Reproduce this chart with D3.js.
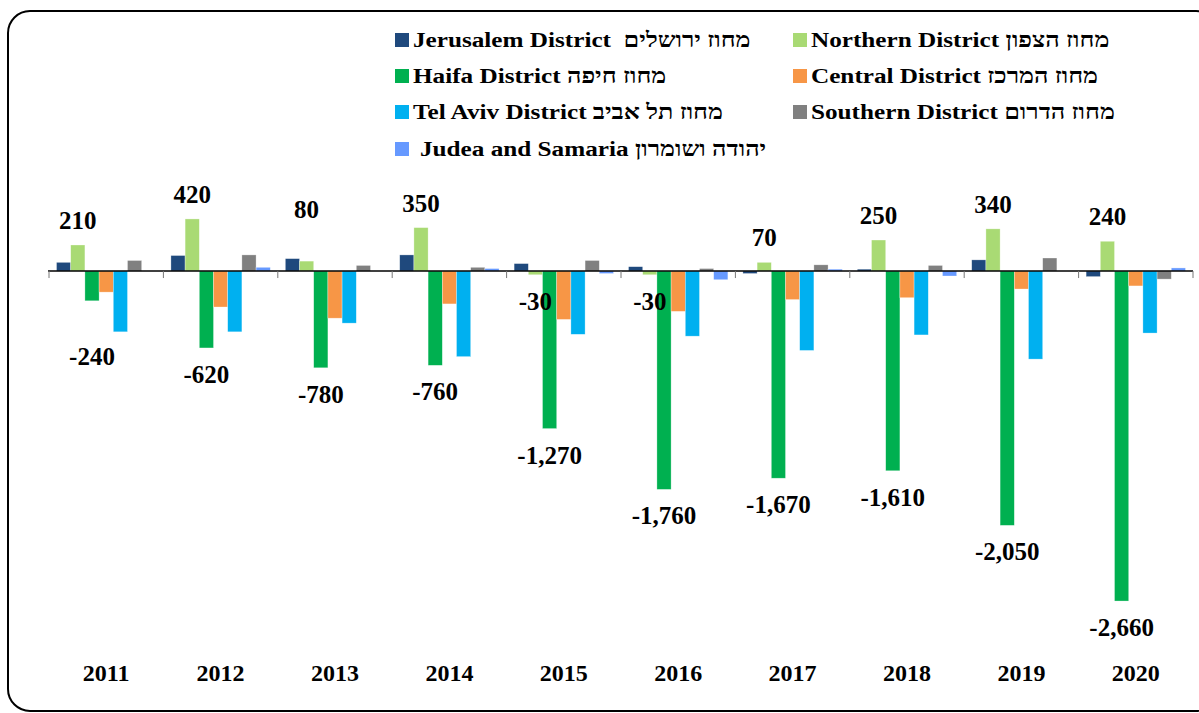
<!DOCTYPE html>
<html>
<head>
<meta charset="utf-8">
<script src="https://cdn.jsdelivr.net/npm/d3@7"></script>
<style>
  body { margin: 0; background: #fff; }
  svg { display: block; }
</style>
</head>
<body>
<svg id="chart"></svg>
<script>
// DATA
const years = ["2011", "2012", "2013", "2014", "2015", "2016", "2017", "2018", "2019", "2020"];
const seriesNames = [
  "Jerusalem District  מחוז ירושלים",
  "Northern District מחוז הצפון",
  "Haifa District מחוז חיפה",
  "Central District מחוז המרכז",
  "Tel Aviv District מחוז תל אביב",
  "Southern District מחוז הדרום",
  "Judea and Samaria יהודה ושומרון"
];
const jerusalem = [70, 125, 100, 130, 60, 35, -20, 15, 90, -45];
const northern = [210, 420, 80, 350, -30, -30, 70, 250, 340, 240];
const haifa = [-240, -620, -780, -760, -1270, -1760, -1670, -1610, -2050, -2660];
const central = [-170, -290, -380, -265, -390, -325, -230, -215, -145, -120];
const telAviv = [-490, -490, -420, -690, -510, -525, -640, -515, -710, -500];
const southern = [85, 130, 45, 30, 85, 20, 50, 45, 105, -65];
const judeaSamaria = [0, 30, 0, 20, -20, -70, 15, -40, 0, 25];
const labelledSeries = [1, 2]; // Northern, Haifa

let seriesValues = [jerusalem, northern, haifa, central, telAviv, southern, judeaSamaria];
let colors = ["#1F497D", "#A9DA74", "#00B050", "#F79646", "#00B0F0", "#808080", "#6699FF"];

let svgWidth = 1199;
let svgHeight = 713;
let serif = "'Liberation Serif', 'Times New Roman', serif";

let svg = d3.select("#chart")
  .attr("width", svgWidth)
  .attr("height", svgHeight);

//BORDER
svg.append("rect")
  .attr("x", 8)
  .attr("y", 11)
  .attr("width", 1210)
  .attr("height", 700)
  .attr("rx", 22)
  .attr("ry", 22)
  .attr("fill", "none")
  .attr("stroke", "#000")
  .attr("stroke-width", 2);

//SCALES
let x0 = d3.scaleBand().domain(years).range([49, 1193]).paddingInner(0).paddingOuter(0);
let x1 = d3.scaleBand().domain(d3.range(seriesNames.length))
  .range([0, x0.bandwidth()]).paddingInner(0).paddingOuter(0.53);
let y = d3.scaleLinear().domain([-2800, 600]).range([618.4, 196.6]);

let rows = [];
years.forEach(function(yr, i) {
  seriesValues.forEach(function(vals, s) {
    rows.push({ year: yr, s: s, v: vals[i] });
  });
});

//BARS
svg.append("g").selectAll("rect")
  .data(rows)
  .enter()
  .append("rect")
  .attr("x", function(d) { return x0(d.year) + x1(d.s); })
  .attr("width", x1.bandwidth())
  .attr("y", function(d) { return Math.min(y(d.v), y(0)); })
  .attr("height", function(d) { return Math.abs(y(d.v) - y(0)); })
  .attr("fill", function(d) { return colors[d.s]; })
  .attr("stroke", "#ffffff")
  .attr("stroke-opacity", 0.5)
  .attr("stroke-width", 0.6);

//AXIS
let xAxis = svg.append("g").attr("transform", "translate(0," + y(0) + ")");
xAxis.append("line")
  .attr("x1", 48).attr("x2", 1193)
  .attr("y1", 0).attr("y2", 0)
  .attr("stroke", "#000").attr("stroke-width", 1.5);
let edges = years.map(function(yr) { return x0(yr); }).concat([1193]);
xAxis.selectAll(".tick")
  .data(edges)
  .enter()
  .append("line")
  .attr("x1", function(d) { return d; })
  .attr("x2", function(d) { return d; })
  .attr("y1", 0).attr("y2", 7)
  .attr("stroke", "#777").attr("stroke-width", 1);

//YEAR LABELS
svg.append("g").selectAll("text")
  .data(years)
  .enter()
  .append("text")
  .attr("x", function(d) { return x0(d) + x0.bandwidth() / 2; })
  .attr("y", 681)
  .attr("text-anchor", "middle")
  .style("font-family", serif)
  .style("font-weight", "bold")
  .style("font-size", "24px")
  .text(function(d) { return d; });

//VALUE LABELS
let nudge = { "2011-2": 29, "2013-1": -27 };
let fmt = function(v) { return d3.format(",")(v).replace("\u2212", "-"); };
svg.append("g").selectAll("text")
  .data(rows.filter(function(d) { return labelledSeries.indexOf(d.s) >= 0; }))
  .enter()
  .append("text")
  .attr("x", function(d) { return x0(d.year) + x1(d.s) + x1.bandwidth() / 2; })
  .attr("y", function(d) {
    let base = d.v >= 0 ? y(d.v) - 16 : y(d.v) + 35;
    return base + (nudge[d.year + "-" + d.s] || 0);
  })
  .attr("text-anchor", "middle")
  .style("font-family", serif)
  .style("font-weight", "bold")
  .style("font-size", "25px")
  .text(function(d) { return fmt(d.v); });

//LEGEND
let legendPos = [
  [395, 33], [793, 33],
  [395, 69], [793, 69],
  [395, 105], [793, 105],
  [395, 142]
];
let legend = svg.append("g").selectAll("g")
  .data(seriesNames)
  .enter()
  .append("g")
  .attr("transform", function(d, i) { return "translate(" + legendPos[i][0] + "," + legendPos[i][1] + ")"; });
legend.append("rect")
  .attr("width", 14).attr("height", 14)
  .attr("fill", function(d, i) { return colors[i]; });
legend.append("text")
  .attr("transform", function(d, i) { return "translate(" + (i === 6 ? 25 : 18) + ",14) scale(1.2,1)"; })
  .style("font-family", serif)
  .style("font-weight", "bold")
  .style("font-size", "21px")
  .style("white-space", "pre")
  .text(function(d) { return d; });
</script>
</body>
</html>
